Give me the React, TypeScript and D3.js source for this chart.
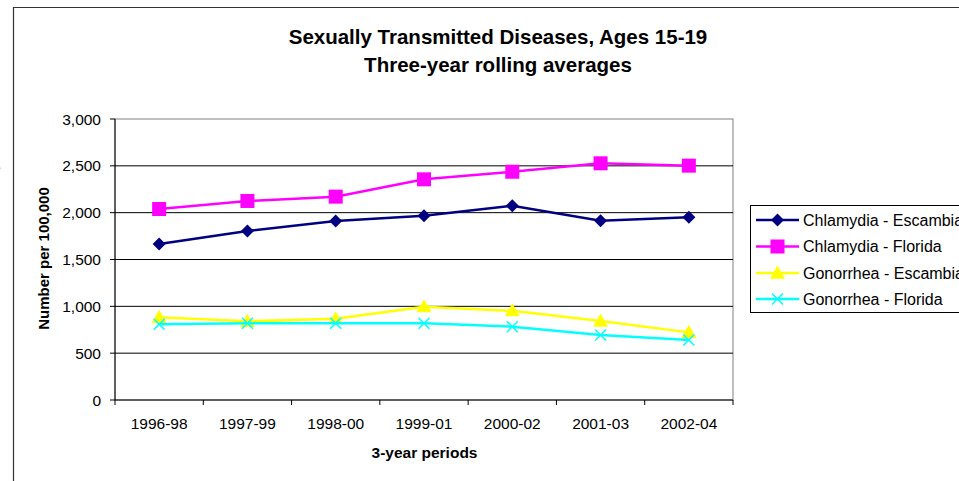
import React from "react";
import * as d3 from "d3";

const categories = ["1996-98", "1997-99", "1998-00", "1999-01", "2000-02", "2001-03", "2002-04"];
const chlamydiaEscambia = [1665, 1804, 1911, 1968, 2074, 1914, 1950];
const chlamydiaFlorida = [2039, 2125, 2171, 2356, 2437, 2527, 2502];
const gonorrheaEscambia = [883, 840, 868, 996, 953, 843, 722];
const gonorrheaFlorida = [808, 819, 819, 819, 783, 694, 641];
const yTicks = [0, 500, 1000, 1500, 2000, 2500, 3000];
const seriesNames = ["Chlamydia - Escambia", "Chlamydia - Florida", "Gonorrhea - Escambia", "Gonorrhea - Florida"];
const seriesColors = ["#000080", "#FF00FF", "#FFFF00", "#00FFFF"];
const seriesMarkers = ["diamond", "square", "triangle", "x"];
const titleLines = ["Sexually Transmitted Diseases, Ages 15-19", "Three-year rolling averages"];

const FONT = "Arial, 'Liberation Sans', sans-serif";

function Marker({ type, x, y, color }: { type: string; x: number; y: number; color: string }) {
  if (type === "diamond") {
    const r = 6.5;
    return <path d={`M${x},${y - r}L${x + r},${y}L${x},${y + r}L${x - r},${y}Z`} fill={color} />;
  }
  if (type === "square") {
    const r = 7;
    return <rect x={x - r} y={y - r} width={2 * r} height={2 * r} fill={color} />;
  }
  if (type === "triangle") {
    const r = 7.5;
    return <path d={`M${x},${y - r}L${x + r},${y + r * 0.75}L${x - r},${y + r * 0.75}Z`} fill={color} />;
  }
  const r = 5.5;
  return (
    <path
      d={`M${x - r},${y - r}L${x + r},${y + r}M${x - r},${y + r}L${x + r},${y - r}`}
      stroke={color}
      strokeWidth={1.5}
      fill="none"
    />
  );
}

export default function App() {
  const W = 959;
  const H = 481;
  const left = 115, right = 733, top = 119, bottom = 400;
  const x = d3.scaleBand<string>().domain(categories).range([left, right]);
  const y = d3.scaleLinear().domain([0, 3000]).range([bottom, top]);
  const cx = (c: string) => (x(c) as number) + x.bandwidth() / 2;
  const allSeries = [chlamydiaEscambia, chlamydiaFlorida, gonorrheaEscambia, gonorrheaFlorida];
  const line = d3
    .line<number>()
    .x((_, i) => cx(categories[i]))
    .y((d) => y(d));
  const fmt = d3.format(",");
  const boundaries = categories.map((c) => x(c) as number).concat([right]);
  const legendY = [220, 246.5, 273, 299];

  return (
    <svg
      width={W}
      height={H}
      style={{ position: "absolute", left: 0, top: 0, background: "#fff", fontFamily: FONT }}
    >
      <rect x={0} y={0} width={W} height={H} fill="#fff" />
      {/* outer chart border */}
      <path d={`M${W + 5},7.5H13.5V${H + 5}`} stroke="#333" strokeWidth={1.2} fill="none" />
      <text x={-5} y={172} fontSize={10} fill="#666">e</text>

      {/* title */}
      {titleLines.map((t, i) => (
        <text key={t} x={498} y={44 + i * 28} textAnchor="middle" fontSize={20.5} fontWeight="bold" fill="#000">
          {t}
        </text>
      ))}

      {/* plot area frame */}
      <rect x={left} y={top} width={right - left} height={bottom - top} fill="#fff" stroke="#808080" strokeWidth={1} />
      {/* gridlines */}
      {yTicks.filter((t) => t > 0 && t < 3000).map((t) => (
        <line key={t} x1={left} x2={right} y1={y(t)} y2={y(t)} stroke="#000" strokeWidth={1} />
      ))}
      {/* axes */}
      <line x1={left} x2={left} y1={top} y2={bottom} stroke="#000" strokeWidth={1} />
      <line x1={left} x2={right} y1={bottom} y2={bottom} stroke="#000" strokeWidth={1} />
      {yTicks.map((t) => (
        <g key={t}>
          <line x1={left - 5} x2={left} y1={y(t)} y2={y(t)} stroke="#000" />
          <text x={101} y={y(t) + 5.5} textAnchor="end" fontSize={15.5} fill="#000">
            {fmt(t)}
          </text>
        </g>
      ))}
      {boundaries.map((b, i) => (
        <line key={i} x1={b} x2={b} y1={bottom} y2={bottom + 5} stroke="#000" />
      ))}
      {categories.map((c) => (
        <text key={c} x={cx(c)} y={429} textAnchor="middle" fontSize={15.5} fill="#000">
          {c}
        </text>
      ))}
      <text x={424.5} y={458} textAnchor="middle" fontSize={15.5} fontWeight="bold" fill="#000">
        3-year periods
      </text>
      <text
        transform={`translate(48.5,258.5) rotate(-90)`}
        textAnchor="middle"
        fontSize={15}
        fontWeight="bold"
        fill="#000"
      >
        Number per 100,000
      </text>

      {/* series */}
      {allSeries.map((s, si) => (
        <g key={si}>
          <path d={line(s) || ""} fill="none" stroke={seriesColors[si]} strokeWidth={2.5} />
          {s.map((v, i) => (
            <Marker key={i} type={seriesMarkers[si]} x={cx(categories[i])} y={y(v)} color={seriesColors[si]} />
          ))}
        </g>
      ))}

      {/* legend */}
      <rect x={750.5} y={205.5} width={260} height={107} fill="#fff" stroke="#000" strokeWidth={1} />
      {seriesNames.map((n, i) => (
        <g key={n}>
          <line x1={756} x2={799} y1={legendY[i]} y2={legendY[i]} stroke={seriesColors[i]} strokeWidth={2.5} />
          <Marker type={seriesMarkers[i]} x={777.5} y={legendY[i]} color={seriesColors[i]} />
          <text x={803} y={legendY[i] + 5.7} fontSize={16} fill="#000">
            {n}
          </text>
        </g>
      ))}
    </svg>
  );
}
